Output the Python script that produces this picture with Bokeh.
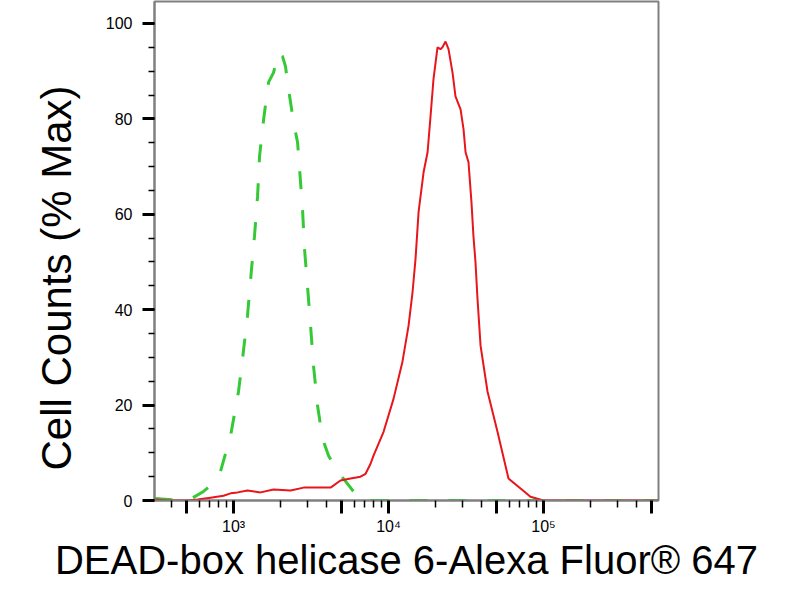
from bokeh.plotting import figure
from bokeh.models import Range1d, SingleIntervalTicker, FixedTicker, Title
from bokeh.embed import file_html
from bokeh.resources import INLINE

# Isotype control (green, dashed)
green_x = [309, 423, 528, 640, 733, 824, 957, 1076, 1143, 1230,
           1306, 1365, 1429, 1472, 1563, 1683, 1811, 1950, 2070, 2163,
           2265, 2438, 2588, 2667, 2786, 2871, 2999, 3141, 3281, 3483,
           3750, 4102, 4688, 5284, 5943, 6792, 10000, 100000, 552000]
green_y = [0.4, 0.1, 0.3, 1.9, 3.5, 6.1, 13.6, 22.8, 29.7, 38.7,
           48.5, 55.4, 63.8, 72.2, 79.9, 87.7, 89.7, 93.9, 93.1, 91.0,
           86.2, 79.3, 75.1, 69.5, 61.1, 52.7, 45.0, 36.6, 28.2, 19.9,
           13.0, 9.4, 6.1, 4.0, 1.9, 0.0, 0.0, 0.0, 0.0]

# Stained sample (red, solid)
red_x = [309, 393, 505, 586, 711, 861, 957, 1062, 1230, 1493,
         1811, 2333, 2831, 4227, 4898, 5689, 6592, 7112, 7656, 8000,
         9290, 10770, 12300, 13460, 14290, 14930, 15630, 16830, 17860, 18660,
         19500, 20700, 21630, 22280, 23330, 24380, 25880, 27040, 29170, 30480,
         31410, 32810, 34280, 35320, 36390, 37500, 39260, 43550, 50470, 59430,
         71120, 82410, 100000, 552000]
red_y = [0.2, 0.0, 0.0, 0.2, 0.6, 1.0, 1.5, 1.7, 2.1, 1.7,
         2.3, 2.1, 2.7, 2.7, 4.2, 4.6, 5.0, 5.6, 7.7, 9.4,
         14.4, 21.3, 29.1, 36.6, 43.7, 50.6, 60.5, 68.8, 73.0, 80.5,
         88.3, 95.0, 94.6, 95.0, 96.2, 94.6, 89.7, 84.7, 82.0, 77.8,
         73.0, 70.9, 62.6, 55.4, 50.0, 42.3, 32.4, 22.8, 14.4, 4.6,
         2.5, 0.8, 0.0, 0.0]

# x axis ticks: decades labelled, half-decades long but unlabelled
x_major_ticks = [500, 1000, 5000, 10000, 50000, 100000, 500000]
x_minor_ticks = [400, 600, 700, 800, 900,
                 2000, 3000, 4000, 6000, 7000, 8000, 9000,
                 20000, 30000, 40000, 60000, 70000, 80000, 90000,
                 200000, 300000, 400000]
x_tick_labels = {500: "", 1000: "10³", 5000: "", 10000: "10⁴",
                 50000: "", 100000: "10⁵", 500000: ""}
x_title = "DEAD-box helicase 6-Alexa Fluor® 647"
y_title = "Cell Counts (% Max)"

FONT = "Liberation Sans"

p = figure(width=784, height=584, x_axis_type="log",
           x_range=Range1d(309, 552000), y_range=Range1d(0, 104.6),
           output_backend="svg", toolbar_location=None,
           min_border_left=154, min_border_right=126,
           min_border_top=1, min_border_bottom=81)

p.grid.visible = False
p.background_fill_color = "white"
p.border_fill_color = "white"
p.outline_line_color = "#808080"
p.outline_line_width = 2

p.line(green_x, green_y, line_color="#35c935", line_width=3, line_dash="18 21")
p.line(red_x, red_y, line_color="#e8151b", line_width=2)

for ax in (p.xaxis[0], p.yaxis[0]):
    ax.axis_line_color = "#808080"
    ax.axis_line_width = 2
    ax.major_tick_line_color = "black"
    ax.major_tick_line_width = 3
    ax.major_tick_in = 0
    ax.minor_tick_line_color = "black"
    ax.minor_tick_line_width = 1.5
    ax.minor_tick_in = 0
    ax.major_label_text_font = FONT
    ax.major_label_text_font_size = "16px"
    ax.major_label_text_color = "black"

xa = p.xaxis[0]
xa.ticker = FixedTicker(ticks=x_major_ticks, minor_ticks=x_minor_ticks)
xa.major_tick_out = 13
xa.minor_tick_out = 7
xa.major_label_standoff = 4
xa.major_label_overrides = x_tick_labels
xa.axis_label = x_title
xa.axis_label_standoff = 0
xa.axis_label_text_font = FONT
xa.axis_label_text_font_size = "40px"
xa.axis_label_text_font_style = "normal"
xa.axis_label_text_color = "black"

ya = p.yaxis[0]
ya.ticker = SingleIntervalTicker(interval=20, num_minor_ticks=4)
ya.major_tick_out = 12
ya.minor_tick_out = 6
ya.major_label_standoff = 10

p.add_layout(Title(text=y_title, align="left", offset=30, standoff=46,
                   text_font=FONT, text_font_size="42px",
                   text_font_style="normal", text_color="black"), "left")

open("out.html", "w").write(file_html(p, INLINE))
